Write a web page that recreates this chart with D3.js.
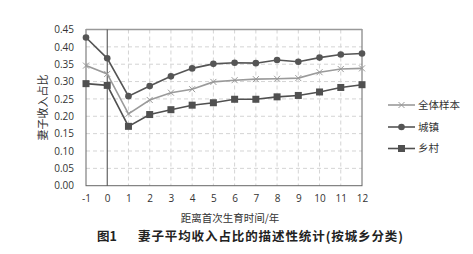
<!DOCTYPE html>
<html>
<head>
<meta charset="utf-8">
<script src="https://cdn.jsdelivr.net/npm/d3@7"></script>
<style>
  body { margin: 0; background: #fff; }
  text { font-family: "Noto Sans CJK SC", "DejaVu Sans", sans-serif; }
</style>
</head>
<body>
<div id="chart"></div>
<script>
// years relative to first birth
var years = [-1, 0, 1, 2, 3, 4, 5, 6, 7, 8, 9, 10, 11, 12];
var yTicks = [0, 0.05, 0.10, 0.15, 0.20, 0.25, 0.30, 0.35, 0.40, 0.45];

var allValues   = [0.346, 0.322, 0.207, 0.247, 0.268, 0.278, 0.299, 0.304, 0.307, 0.308, 0.310, 0.327, 0.336, 0.338];
var urbanValues = [0.427, 0.367, 0.258, 0.287, 0.315, 0.338, 0.351, 0.354, 0.353, 0.362, 0.357, 0.369, 0.378, 0.381];
var ruralValues = [0.294, 0.289, 0.171, 0.205, 0.219, 0.232, 0.239, 0.249, 0.249, 0.256, 0.260, 0.270, 0.283, 0.291];

var seriesNames = ["全体样本", "城镇", "乡村"];

var w = 473, h = 254;
var plotL = 86, plotR = 362, plotT = 29.5, plotB = 185.7;

var svg = d3.select("#chart").append("svg")
  .attr("width", w)
  .attr("height", h);

var x = d3.scaleLinear().domain([-1, 12]).range([plotL, plotR]);
var y = d3.scaleLinear().domain([0, 0.45]).range([plotB, plotT]);

// dashed grid
svg.append("g")
  .selectAll("line")
  .data(yTicks.slice(1, -1))
  .enter().append("line")
  .attr("x1", plotL).attr("x2", plotR)
  .attr("y1", function(d) { return y(d); })
  .attr("y2", function(d) { return y(d); })
  .attr("stroke", "#d4d4d4")
  .attr("stroke-dasharray", "4,3");

svg.append("g")
  .selectAll("line")
  .data(years.slice(2, -1))
  .enter().append("line")
  .attr("x1", function(d) { return x(d); })
  .attr("x2", function(d) { return x(d); })
  .attr("y1", plotT).attr("y2", plotB)
  .attr("stroke", "#d4d4d4")
  .attr("stroke-dasharray", "4,3");

// frame
svg.append("rect")
  .attr("x", plotL).attr("y", plotT)
  .attr("width", plotR - plotL).attr("height", plotB - plotT)
  .attr("fill", "none")
  .attr("stroke", "#666")
  .attr("stroke-width", 1);
svg.append("line")
  .attr("x1", plotL).attr("x2", plotR)
  .attr("y1", plotT).attr("y2", plotT)
  .attr("stroke", "#999").attr("stroke-width", 1.5);

// line at year 0
svg.append("line")
  .attr("x1", x(0)).attr("x2", x(0))
  .attr("y1", plotT).attr("y2", plotB)
  .attr("stroke", "#444").attr("stroke-width", 1);

// axis numbers
var yAxis = d3.axisLeft(y).tickValues(yTicks).tickSize(0).tickPadding(12)
  .tickFormat(d3.format(".2f"));
var gy = svg.append("g").attr("transform", "translate(" + plotL + ",0)").call(yAxis);
gy.select(".domain").remove();
gy.selectAll("text").attr("font-size", "10px").attr("fill", "#333")
  .style("font-family", "'Open Sans', 'DejaVu Sans', sans-serif");

var xAxis = d3.axisBottom(x).tickValues(years).tickSize(0).tickPadding(9)
  .tickFormat(function(d) { return String(d); });
var gx = svg.append("g").attr("transform", "translate(0," + plotB + ")").call(xAxis);
gx.select(".domain").remove();
gx.selectAll("text").attr("font-size", "10px").attr("fill", "#333")
  .style("font-family", "'Open Sans', 'DejaVu Sans', sans-serif");

// series
var line = d3.line()
  .x(function(d, i) { return x(years[i]); })
  .y(function(d) { return y(d); });

var series = [
  { name: seriesNames[0], values: allValues, color: "#9a9a9a", marker: "cross" },
  { name: seriesNames[1], values: urbanValues, color: "#555", marker: "circle" },
  { name: seriesNames[2], values: ruralValues, color: "#505050", marker: "square" }
];

function drawMarker(g, type, color, cx, cy) {
  if (type === "circle") {
    g.append("circle").attr("cx", cx).attr("cy", cy).attr("r", 3.3).attr("fill", color);
  } else if (type === "square") {
    g.append("rect").attr("x", cx - 3.5).attr("y", cy - 3.5)
      .attr("width", 7).attr("height", 7).attr("fill", color);
  } else {
    g.append("path")
      .attr("d", "M" + (cx - 3) + "," + (cy - 3) + "L" + (cx + 3) + "," + (cy + 3) +
                 "M" + (cx - 3) + "," + (cy + 3) + "L" + (cx + 3) + "," + (cy - 3))
      .attr("stroke", color).attr("stroke-width", 1);
  }
}

series.forEach(function(s) {
  svg.append("path")
    .datum(s.values)
    .attr("d", line)
    .attr("fill", "none")
    .attr("stroke", s.color)
    .attr("stroke-width", 1.6);
  var g = svg.append("g");
  s.values.forEach(function(v, i) {
    drawMarker(g, s.marker, s.color, x(years[i]), y(v));
  });
});

// legend
var legendY = [105, 127, 148.5];
series.forEach(function(s, i) {
  var g = svg.append("g");
  g.append("line")
    .attr("x1", 388).attr("x2", 415)
    .attr("y1", legendY[i]).attr("y2", legendY[i])
    .attr("stroke", s.color).attr("stroke-width", 1.6);
  drawMarker(g, s.marker, s.color, 401.5, legendY[i]);
  g.append("text")
    .attr("x", 418).attr("y", legendY[i])
    .attr("dy", "0.35em")
    .attr("font-size", "10.5px")
    .attr("fill", "#333")
    .text(s.name);
});

// axis titles
svg.append("text")
  .attr("transform", "translate(47," + ((plotT + plotB) / 2) + ") rotate(-90)")
  .attr("text-anchor", "middle")
  .attr("font-size", "11px")
  .attr("fill", "#333")
  .text("妻子收入占比");

svg.append("text")
  .attr("x", 230).attr("y", 218)
  .attr("dy", "0.35em")
  .attr("text-anchor", "middle")
  .attr("font-size", "10.5px")
  .attr("fill", "#333")
  .text("距离首次生育时间/年");

// caption
svg.append("text")
  .attr("x", 97).attr("y", 237)
  .attr("dy", "0.35em")
  .attr("font-size", "12.5px")
  .attr("font-weight", "bold")
  .attr("fill", "#222")
  .text("图1");
svg.append("text")
  .attr("x", 138).attr("y", 237)
  .attr("dy", "0.35em")
  .attr("font-size", "12.5px")
  .attr("font-weight", "bold")
  .attr("fill", "#222")
  .attr("textLength", 265)
  .text("妻子平均收入占比的描述性统计(按城乡分类)");
</script>
</body>
</html>
